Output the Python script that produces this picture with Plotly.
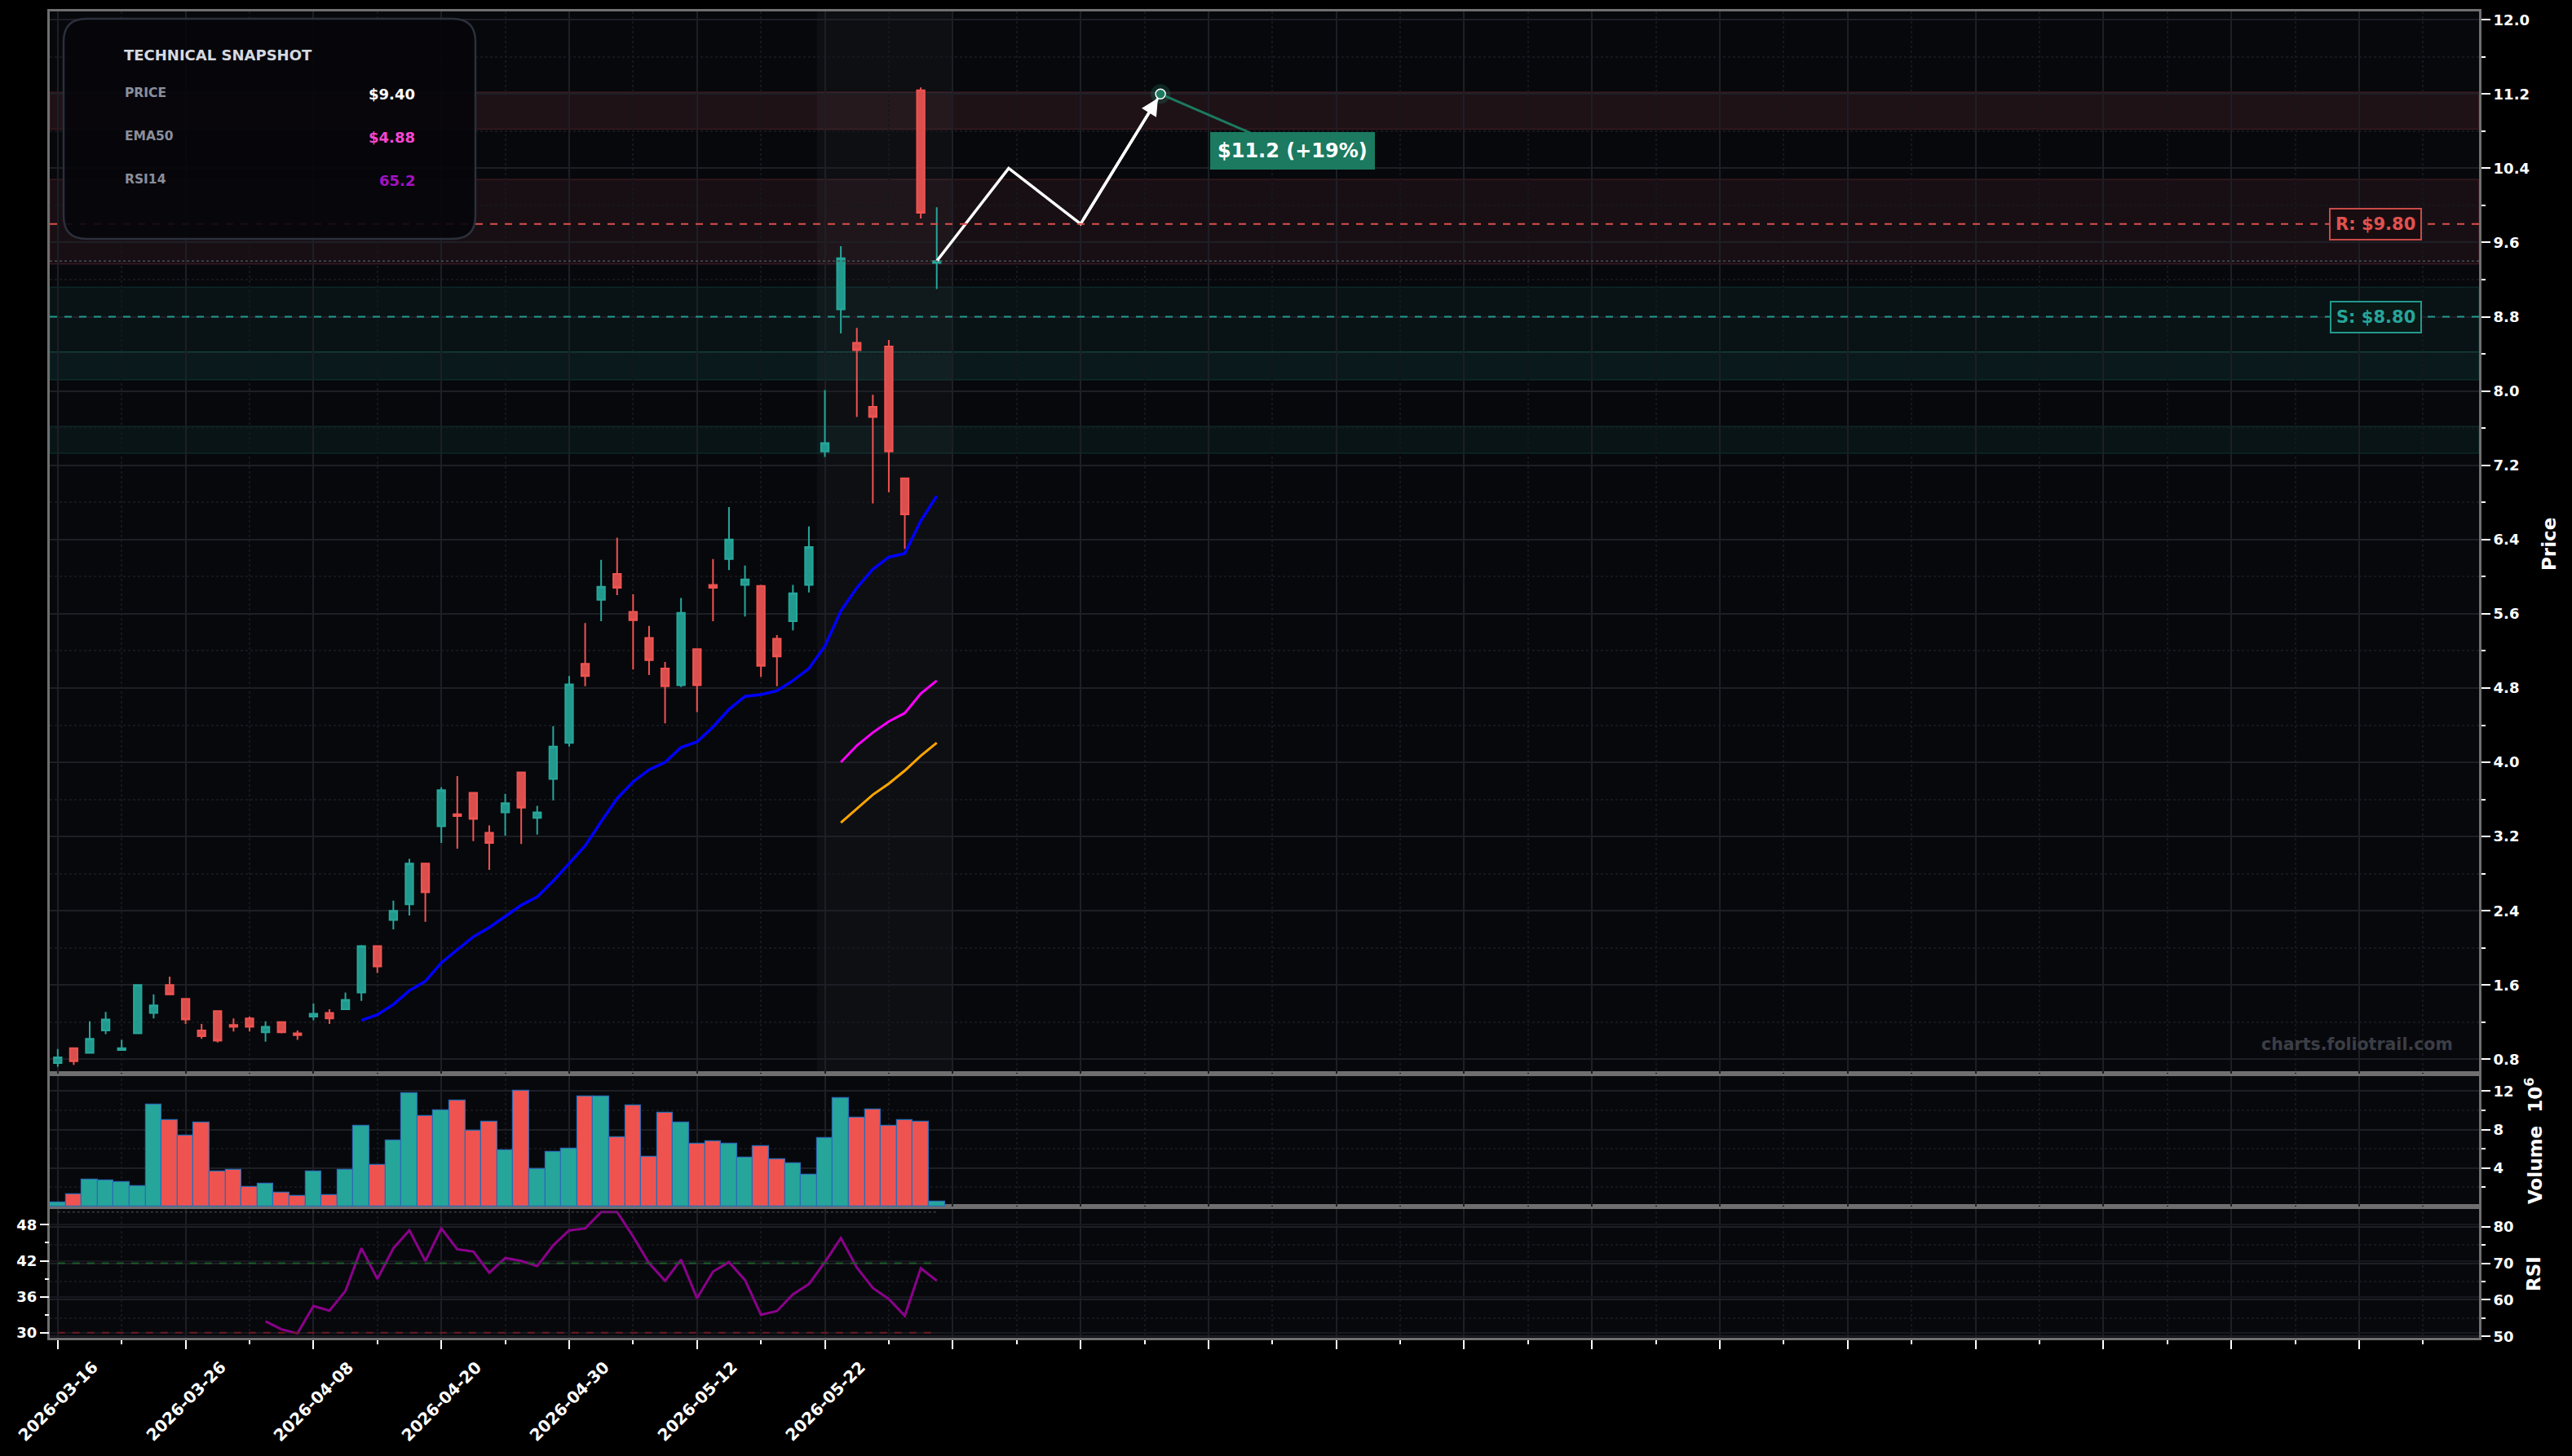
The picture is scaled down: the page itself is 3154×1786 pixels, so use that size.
import plotly.graph_objects as go

W, H = 3154, 1786
ML, MR, MT, MB = 61, 114, 14, 145
PW = W - ML - MR
PH = H - MT - MB


def px(x):
    return (x - ML) / PW


def py(y):
    return (H - MB - y) / PH


# ---------------- data ----------------
tick_labels = ["2026-03-16", "2026-03-26", "2026-04-08", "2026-04-20",
               "2026-04-30", "2026-05-12", "2026-05-22"]

opens = [0.76, 0.92, 0.87, 1.11, 0.90, 1.08, 1.30, 1.60, 1.45, 1.11, 1.32, 1.17, 1.24, 1.09,
         1.20, 1.08, 1.26, 1.30, 1.34, 1.52, 2.02, 2.30, 2.47, 2.91, 3.31, 3.44, 3.67, 3.24,
         3.46, 3.89, 3.40, 3.82, 4.21, 5.06, 5.75, 6.03, 5.62, 5.34, 5.01, 4.83, 5.22, 5.91,
         6.19, 5.91, 5.90, 5.33, 5.52, 5.91, 7.35, 8.88, 8.52, 7.83, 8.48, 7.06, 11.24, 9.38]
highs = [0.91, 0.92, 1.21, 1.31, 1.01, 1.61, 1.50, 1.69, 1.45, 1.18, 1.32, 1.24, 1.26, 1.21,
         1.20, 1.11, 1.40, 1.34, 1.52, 2.03, 2.02, 2.51, 2.96, 2.91, 3.73, 3.85, 3.68, 3.32,
         3.66, 3.89, 3.53, 4.39, 4.93, 5.50, 6.18, 6.42, 5.81, 5.47, 5.08, 5.77, 5.22, 6.19,
         6.75, 6.12, 5.91, 5.37, 5.91, 6.54, 8.01, 9.56, 8.68, 7.96, 8.55, 7.06, 11.27, 9.98]
lows = [0.72, 0.74, 0.87, 1.07, 0.89, 1.07, 1.24, 1.50, 1.18, 1.02, 0.98, 1.10, 1.10, 0.99,
        1.08, 1.01, 1.22, 1.18, 1.33, 1.43, 1.73, 2.20, 2.35, 2.28, 3.13, 3.07, 3.15, 2.84,
        3.21, 3.12, 3.22, 3.59, 4.17, 4.82, 5.52, 5.80, 5.00, 4.94, 4.42, 4.81, 4.54, 5.52,
        6.07, 5.57, 4.92, 4.82, 5.42, 5.83, 7.29, 8.62, 7.72, 6.79, 6.91, 6.30, 9.86, 9.10]
closes = [0.82, 0.78, 1.02, 1.23, 0.92, 1.60, 1.38, 1.50, 1.23, 1.05, 1.00, 1.15, 1.15, 1.15,
          1.09, 1.06, 1.29, 1.24, 1.44, 2.02, 1.80, 2.40, 2.91, 2.60, 3.70, 3.42, 3.39, 3.13,
          3.56, 3.51, 3.46, 4.17, 4.84, 4.93, 5.89, 5.88, 5.53, 5.10, 4.82, 5.61, 4.83, 5.88,
          6.40, 5.97, 5.04, 5.14, 5.82, 6.32, 7.44, 9.43, 8.44, 7.72, 7.35, 6.67, 9.92, 9.40]
volumes_m = [0.4, 1.3, 2.8, 2.7, 2.5, 2.1, 10.6, 9.0, 7.4, 8.7, 3.6, 3.8, 2.0, 2.4, 1.4, 1.1,
             3.6, 1.2, 3.8, 8.4, 4.3, 6.9, 11.8, 9.4, 10.0, 11.0, 7.9, 8.8, 5.8, 12.0, 3.9,
             5.7, 6.0, 11.4, 11.4, 7.2, 10.5, 5.2, 9.7, 8.7, 6.5, 6.8, 6.5, 5.1, 6.3, 4.9, 4.5,
             3.3, 7.1, 11.3, 9.2, 10.1, 8.4, 9.0, 8.8, 0.5]

ema_fast_start = 19
ema_fast = [1.22, 1.28, 1.39, 1.54, 1.64, 1.84, 1.98, 2.12, 2.22, 2.34, 2.46, 2.55, 2.72,
            2.91, 3.10, 3.36, 3.61, 3.79, 3.92, 4.00, 4.16, 4.22, 4.38, 4.57, 4.71, 4.73,
            4.77, 4.88, 5.01, 5.25, 5.63, 5.88, 6.08, 6.21, 6.25, 6.60, 6.87]
ema50_start = 49
ema50 = [4.00, 4.18, 4.32, 4.44, 4.53, 4.74, 4.88]
slow_ma = [3.35, 3.50, 3.65, 3.77, 3.91, 4.07, 4.21]

rsi_start = 13
rsi14 = [54.1, 51.9, 50.8, 58.3, 57.0, 62.4, 74.1, 65.7, 74.1, 79.0, 70.6, 79.5, 73.8, 73.2,
         67.4, 71.4, 70.6, 69.2, 74.9, 79.0, 79.5, 84.0, 84.0, 77.3, 70.0, 65.2, 71.0, 60.4,
         67.7, 70.3, 65.4, 55.9, 56.9, 61.5, 64.3, 70.3, 76.9, 68.8, 63.2, 60.2, 55.6, 68.6,
         65.2]

forecast_x = [55, 59.5, 64, 69]
forecast_y = [9.40, 10.4, 9.8, 11.2]
target_price = 11.2
resistance = 9.80
support = 8.80
last_price = 9.40

red_zones = [(10.82, 11.22, 0.12), (9.37, 10.28, 0.09)]
green_zones = [(8.42, 9.12, 0.07), (8.12, 8.42, 0.11), (7.33, 7.62, 0.08)]

# ---------------- derived ----------------
n = len(opens)
idx = list(range(n))
TEAL = "#26a69a"
RED = "#ef5350"
vol_colors = [TEAL if c >= o else RED for o, c in zip(opens, closes)]

fig = go.Figure()

fig.add_trace(go.Candlestick(
    x=idx, open=opens, high=highs, low=lows, close=closes,
    xaxis="x3", yaxis="y3", whiskerwidth=0,
    increasing=dict(line=dict(color=TEAL, width=2), fillcolor="#22998d"),
    decreasing=dict(line=dict(color=RED, width=2), fillcolor="#da4f4d"),
    showlegend=False, hoverinfo="skip"))

fig.add_trace(go.Scatter(x=list(range(ema_fast_start, ema_fast_start + len(ema_fast))), y=ema_fast,
                         mode="lines", line=dict(color="#0000ff", width=3.5),
                         xaxis="x3", yaxis="y3", showlegend=False, hoverinfo="skip"))
fig.add_trace(go.Scatter(x=list(range(ema50_start, ema50_start + len(ema50))), y=ema50,
                         mode="lines", line=dict(color="#ff00ff", width=3),
                         xaxis="x3", yaxis="y3", showlegend=False, hoverinfo="skip"))
fig.add_trace(go.Scatter(x=list(range(ema50_start, ema50_start + len(slow_ma))), y=slow_ma,
                         mode="lines", line=dict(color="#ffa500", width=3),
                         xaxis="x3", yaxis="y3", showlegend=False, hoverinfo="skip"))

# forecast path
fig.add_trace(go.Scatter(x=forecast_x, y=forecast_y, mode="lines",
                         line=dict(color="white", width=3.5),
                         xaxis="x3", yaxis="y3", showlegend=False, hoverinfo="skip"))
fig.add_trace(go.Scatter(x=[forecast_x[-1]], y=[target_price], mode="markers",
                         marker=dict(size=24, color="rgba(27,122,95,0.28)"),
                         xaxis="x3", yaxis="y3", showlegend=False, hoverinfo="skip"))
fig.add_trace(go.Scatter(x=[forecast_x[-1]], y=[target_price], mode="markers",
                         marker=dict(size=12, color="#1b7a5f", line=dict(color="white", width=1.5)),
                         xaxis="x3", yaxis="y3", showlegend=False, hoverinfo="skip"))

# volume
fig.add_trace(go.Bar(x=idx, y=volumes_m, width=1.0,
                     marker=dict(color=vol_colors, line=dict(color="#2a6db5", width=1.2)),
                     xaxis="x2", yaxis="y2", showlegend=False, hoverinfo="skip"))

# RSI
fig.add_trace(go.Scatter(x=list(range(rsi_start, rsi_start + len(rsi14))), y=rsi14,
                         mode="lines", line=dict(color="#8b008b", width=3),
                         xaxis="x", yaxis="y", showlegend=False, hoverinfo="skip"))
fig.add_trace(go.Scatter(x=[None], y=[None], xaxis="x", yaxis="y4",
                         showlegend=False, hoverinfo="skip"))

# ---------------- axes ----------------
GRID = "#1d1f25"
MINOR_GRID = "#15171c"
FRAME = dict(showline=True, linecolor="#6f6f6f", linewidth=3, mirror=True, zeroline=False)
TICKFONT = dict(family="DejaVu Sans", size=18, color="white", weight="bold")

xtickvals = list(range(0, 152, 8))
xminor = list(range(4, 152, 8))


def xax(anchor, ticks):
    d = dict(anchor=anchor, domain=[0, 1], range=[-0.5, 151.5], tickmode="array",
             tickvals=xtickvals, showticklabels=False, showgrid=True, gridcolor=GRID, gridwidth=2,
             minor=dict(tickmode="array", tickvals=xminor, showgrid=True, gridcolor=MINOR_GRID,
                        griddash="dot", gridwidth=1.5,
                        ticks="outside" if ticks else "", ticklen=5, tickwidth=1.5,
                        tickcolor="white"),
             **FRAME)
    if ticks:
        d.update(ticks="outside", ticklen=11, tickwidth=2, tickcolor="white")
    else:
        d.update(ticks="", matches="x")
    return d


d_rsi = [0, 161 / PH]
d_vol = [161 / PH, 324 / PH]
d_price = [324 / PH, 1]


def yax(anchor, domain, rng, tickvals, minorvals, side="right", **kw):
    d = dict(anchor=anchor, domain=domain, range=rng, side=side, tickmode="array",
             tickvals=tickvals, ticks="outside", ticklen=11, tickwidth=2, tickcolor="white",
             tickfont=TICKFONT, showgrid=True, gridcolor=GRID, gridwidth=2,
             minor=dict(tickmode="array", tickvals=minorvals, ticks="outside", ticklen=5,
                        tickwidth=1.5, tickcolor="white", showgrid=True, gridcolor=MINOR_GRID,
                        griddash="dot", gridwidth=1.5),
             **FRAME)
    d.update(kw)
    return d


price_ticks = [round(0.8 * k, 1) for k in range(1, 16)]
price_minor = [round(0.4 + 0.8 * k, 1) for k in range(0, 15)]

layout = dict(
    width=W, height=H, autosize=False,
    margin=dict(l=ML, r=MR, t=MT, b=MB, pad=0),
    paper_bgcolor="#000000", plot_bgcolor="#07080c",
    font=dict(family="DejaVu Sans", color="white"),
    showlegend=False, hovermode=False, dragmode=False, template="none",
    bargap=0, boxgap=0.32,
    xaxis=xax("y", True),
    xaxis2=xax("y2", False),
    xaxis3=dict(xax("y3", False), rangeslider=dict(visible=False)),
    yaxis=yax("x", d_rsi, [49.6, 85.5], [50, 60, 70, 80], [55, 65, 75]),
    yaxis4=dict(anchor="x", overlaying="y", side="left", range=[29.15, 51.05],
                tickmode="array", tickvals=[30, 36, 42, 48], ticks="outside", ticklen=11,
                tickwidth=2, tickcolor="white", tickfont=TICKFONT, showgrid=True,
                gridcolor="#16181d", gridwidth=2, showline=False, zeroline=False,
                minor=dict(tickmode="array", tickvals=[33, 39, 45], ticks="outside", ticklen=5,
                           tickwidth=1.5, tickcolor="white")),
    yaxis2=yax("x2", d_vol, [0, 13.8], [4, 8, 12], [2, 6, 10]),
    yaxis3=yax("x3", d_price, [0.645, 12.09], price_ticks, price_minor, tickformat=".1f"),
)
fig.update_layout(**layout)

# ---------------- shapes ----------------
shapes = []
for y0, y1, a in red_zones:
    shapes.append(dict(type="rect", xref="x3 domain", yref="y3", x0=0, x1=1, y0=y0, y1=y1,
                       fillcolor=f"rgba(200,90,110,{a})",
                       line=dict(color="rgba(200,80,90,0.2)", width=1.5), layer="below"))
for y0, y1, a in green_zones:
    shapes.append(dict(type="rect", xref="x3 domain", yref="y3", x0=0, x1=1, y0=y0, y1=y1,
                       fillcolor=f"rgba(38,166,154,{a})",
                       line=dict(color="rgba(38,166,154,0.16)", width=1.5), layer="below"))
shapes.append(dict(type="rect", xref="x3", yref="y3 domain", x0=47.5, x1=56.0, y0=0, y1=1,
                   fillcolor="rgba(255,255,255,0.03)", line=dict(width=0), layer="below"))
shapes.append(dict(type="line", xref="x3 domain", yref="y3", x0=0, x1=1, y0=resistance, y1=resistance,
                   line=dict(color="#d94f4c", width=2, dash="dash")))
shapes.append(dict(type="line", xref="x3 domain", yref="y3", x0=0, x1=1, y0=support, y1=support,
                   line=dict(color="#23998d", width=2, dash="dash")))
shapes.append(dict(type="line", xref="x3 domain", yref="y3", x0=0, x1=1, y0=last_price, y1=last_price,
                   line=dict(color="#4a4d55", width=1.5, dash="dot")))
# RSI reference lines
shapes.append(dict(type="line", xref="x", yref="y", x0=0, x1=n - 1, y0=70, y1=70,
                   line=dict(color="#1d5a26", width=2, dash="dash")))
shapes.append(dict(type="line", xref="x", yref="y4", x0=0, x1=n - 1, y0=30, y1=30,
                   line=dict(color="#6a1a22", width=2, dash="dash")))
shapes.append(dict(type="line", xref="x", yref="y", x0=0, x1=n - 1, y0=84, y1=84,
                   line=dict(color="#3a3c42", width=1.5, dash="dot")))

# snapshot panel (rounded)
x0, x1, y0, y1, r = 78, 583, 23, 293, 28
path = (f"M {px(x0 + r)},{py(y0)} L {px(x1 - r)},{py(y0)} Q {px(x1)},{py(y0)} {px(x1)},{py(y0 + r)} "
        f"L {px(x1)},{py(y1 - r)} Q {px(x1)},{py(y1)} {px(x1 - r)},{py(y1)} "
        f"L {px(x0 + r)},{py(y1)} Q {px(x0)},{py(y1)} {px(x0)},{py(y1 - r)} "
        f"L {px(x0)},{py(y0 + r)} Q {px(x0)},{py(y0)} {px(x0 + r)},{py(y0)} Z")
shapes.append(dict(type="path", xref="paper", yref="paper", path=path,
                   fillcolor="rgba(5,6,10,0.9)", line=dict(color="#2b303b", width=2.5), layer="above"))
fig.update_layout(shapes=shapes)

# ---------------- annotations ----------------
ann = []


def txt(x, y, s, size, color, anchor="left", angle=0):
    ann.append(dict(xref="paper", yref="paper", x=px(x), y=py(y), text=s, showarrow=False,
                    xanchor=anchor, yanchor="middle", textangle=angle,
                    font=dict(family="DejaVu Sans", size=size, color=color)))


txt(150, 67, "<b>TECHNICAL SNAPSHOT</b>", 18, "#d6d9e0")
txt(151, 114, "<b>PRICE</b>", 15.5, "#8a8f9c")
txt(511, 116, f"<b>${last_price:.2f}</b>", 18, "#ffffff", "right")
txt(151, 167, "<b>EMA50</b>", 15.5, "#8a8f9c")
txt(511, 168, f"<b>${ema50[-1]:.2f}</b>", 18, "#f545d2", "right")
txt(151, 220, "<b>RSI14</b>", 15.5, "#8a8f9c")
txt(511, 222, f"<b>{rsi14[-1]:.1f}</b>", 18, "#a312c4", "right")

# watermark
txt(3010, 1281, "<b>charts.foliotrail.com</b>", 20.5, "#3b3e45", "right")

# axis titles
txt(3126, 668, "<b>Price</b>", 23, "white", "center", -90)
txt(3107, 1400, "<b>Volume  10<sup>6</sup></b>", 23, "white", "center", -90)
txt(3107, 1563, "<b>RSI</b>", 23, "white", "center", -90)

# x tick labels (rotated, centred under tick like the reference)
for k, lab in enumerate(tick_labels):
    ann.append(dict(xref="x", yref="paper", x=xtickvals[k], y=0, yshift=-21, text=f"<b>{lab}</b>",
                    showarrow=False, xanchor="center", yanchor="top", textangle=-45,
                    font=dict(family="DejaVu Sans", size=20, color="white")))

# R / S labels
ann.append(dict(xref="paper", yref="y3", x=px(2913), y=resistance, text=f"<b>R: ${resistance:.2f}</b>",
                showarrow=False, xanchor="center", yanchor="middle",
                font=dict(family="DejaVu Sans", size=21, color="#e0524f"),
                bgcolor="#170d11", bordercolor="#c84a48", borderwidth=2, borderpad=6))
ann.append(dict(xref="paper", yref="y3", x=px(2913), y=support, text=f"<b>S: ${support:.2f}</b>",
                showarrow=False, xanchor="center", yanchor="middle",
                font=dict(family="DejaVu Sans", size=21, color="#26a69a"),
                bgcolor="#0a1816", bordercolor="#23998d", borderwidth=2, borderpad=6))

# forecast arrowhead
ann.append(dict(xref="x3", yref="y3", axref="x3", ayref="y3", x=forecast_x[-1], y=forecast_y[-1],
                ax=forecast_x[-2], ay=forecast_y[-2], text=" ", showarrow=True, arrowhead=2,
                arrowsize=1.2, arrowwidth=3.5, arrowcolor="white", standoff=6))

# target callout
pct = (target_price / last_price - 1) * 100
ann.append(dict(xref="x3", yref="y3", x=forecast_x[-1], y=target_price,
                text=f"<b>${target_price:.1f} (+{pct:.0f}%)</b>", showarrow=True, arrowhead=0,
                arrowwidth=3, arrowcolor="#1b7a5f", ax=162, ay=70, standoff=7,
                font=dict(family="DejaVu Sans", size=24, color="white"),
                bgcolor="#1b7a5f", bordercolor="#1b7a5f", borderwidth=1, borderpad=8))

fig.update_layout(annotations=ann)

fig.write_html("out.html")
